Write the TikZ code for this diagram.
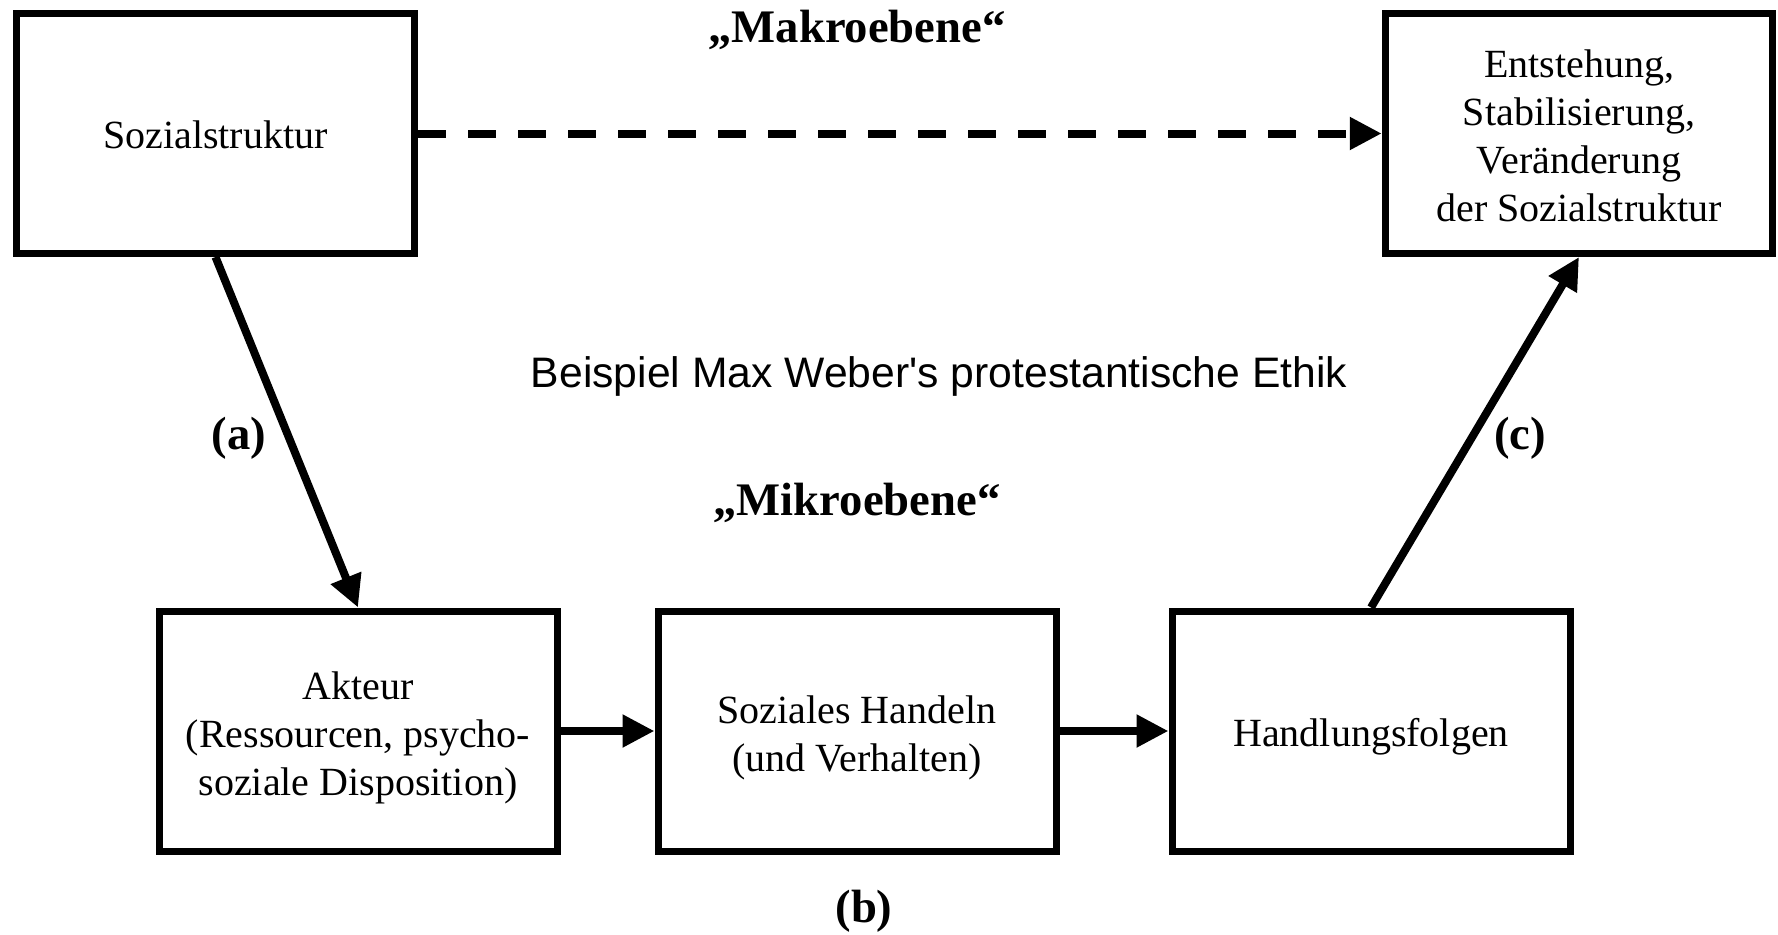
\documentclass[tikz,border=0pt]{standalone}
\usepackage{fontspec}
\setmainfont{Liberation Serif}
\newfontfamily\bspfont{Liberation Sans}[Ligatures=TeXOff]
\usetikzlibrary{arrows.meta}
\begin{document}
\begin{tikzpicture}[x=0.75pt,y=-0.75pt,
  box/.style={draw, line width=5.25pt, minimum width=298.5pt, minimum height=180pt, inner sep=0pt},
  txt/.style={inner sep=0pt, align=center, font=\fontsize{30}{36}\selectfont},
  conn/.style={line width=6pt, -{Triangle[length=24pt,width=23.25pt]}},
  lbl/.style={font=\fontsize{35}{40}\selectfont\bfseries, anchor=base, inner sep=0pt}]
\useasboundingbox[fill=white] (0,0) rectangle (1778,935);
\node[box] (soz) at (215.5,133.5) {};
\node[box, minimum width=290.6pt] (ent) at (1579,133.5) {};
\node[box] (akt) at (358,731) {};
\node[box] (soh) at (857,731) {};
\node[box] (hf) at (1371,731) {};
\node[txt] (soz-t) at ([yshift=-0.75pt]soz.center) {Sozialstruktur};
\node[txt] (ent-t) at ([yshift=-1.5pt]ent.center) {Entstehung,\\Stabilisierung,\\Veränderung\\der Sozialstruktur};
\node[txt] (akt-t) at ([yshift=-5.25pt]akt.center) {Akteur\\(Ressourcen, psycho-\\soziale Disposition)};
\node[txt] (soh-t) at ([yshift=-5.25pt]soh.center) {Soziales Handeln\\(und Verhalten)};
\node[txt] (hf-t) at ([yshift=-4.5pt]hf.center) {Handlungsfolgen};
\draw[conn, dash pattern=on 21pt off 16.5pt] (soz) -- (ent);
\draw[conn] (soz.south) -- (akt.north);
\draw[conn] (hf.north) -- (ent.south);
\draw[conn] (akt) -- (soh);
\draw[conn] (soh) -- (hf);
\node[lbl] (makro) at (857,42) {„Makroebene“};
\node[lbl] (mikro) at (857,515) {„Mikroebene“};
\node[lbl] (la) at (239,449) {(a)};
\node[lbl] (lc) at (1520,449) {(c)};
\node[lbl] (lb) at (864,922) {(b)};
\node[font=\bspfont\fontsize{32}{36}\selectfont, anchor=base, inner sep=0pt] (bsp) at (939,387) {Beispiel Max Weber's protestantische Ethik};
\end{tikzpicture}
\end{document}
